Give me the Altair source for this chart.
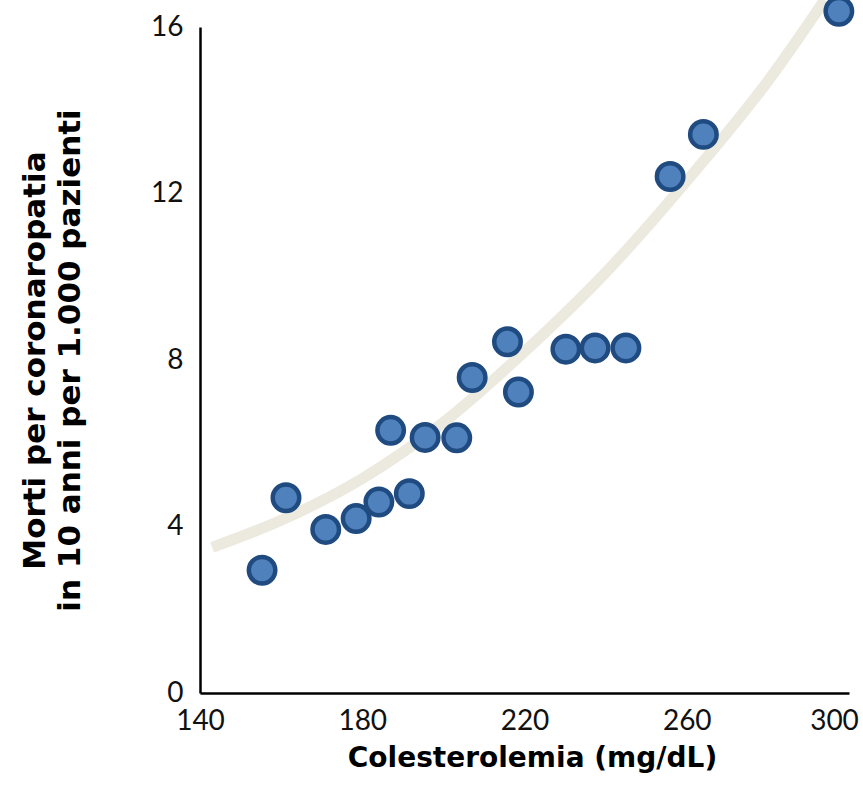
import altair as alt
import pandas as pd

# Observed data points (cholesterol mg/dL, CHD deaths per 1000 in 10 years)
chol = [155.3, 161.2, 171.0, 178.5, 184.1, 187.0, 191.6, 195.5, 203.3,
        207.1, 215.8, 218.5, 230.2, 237.4, 245.0, 255.9, 264.1, 297.5]
deaths = [2.95, 4.69, 3.93, 4.19, 4.59, 6.31, 4.79, 6.14, 6.13,
          7.58, 8.44, 7.23, 8.26, 8.29, 8.29, 12.41, 13.42, 16.38]

# Trend curve
trend_x = [143, 160, 180, 200, 220, 240, 260, 280, 294]
trend_y = [3.5, 4.15, 5.15, 6.5, 8.2, 10.1, 12.3, 14.7, 16.65]

x_ticks = [140, 180, 220, 260, 300]
y_ticks = [0, 4, 8, 12, 16]

pts = pd.DataFrame({"x": chol, "y": deaths})
trend = pd.DataFrame({"x": trend_x, "y": trend_y})

LABEL_FONT = "Lato"
TITLE_FONT = "DejaVu Sans"

x_enc = alt.X(
    "x:Q",
    scale=alt.Scale(domain=[140, 300], nice=False, zero=False),
    axis=alt.Axis(
        values=x_ticks,
        title="Colesterolemia (mg/dL)",
        grid=False,
        ticks=False,
        domainColor="#000000",
        domainWidth=2.5,
        labelFont=LABEL_FONT,
        labelFontSize=28,
        labelFontWeight="normal",
        labelColor="#111111",
        labelPadding=14,
        labelFlush=False,
        labelOffset={"condition": {"test": "datum.value === 300", "value": -15}, "value": 0},
        titleFont=TITLE_FONT,
        titleFontSize=28,
        titleFontWeight="bold",
        titleColor="#000000",
        titlePadding=9,
        titleX=332,
    ),
)

y_enc = alt.Y(
    "y:Q",
    scale=alt.Scale(domain=[0, 16], nice=False),
    axis=alt.Axis(
        values=y_ticks,
        title=["Morti per coronaropatia", "in 10 anni per 1.000 pazienti"],
        grid=False,
        ticks=False,
        domainColor="#000000",
        domainWidth=2.5,
        labelFont=LABEL_FONT,
        labelFontSize=28,
        labelFontWeight="normal",
        labelColor="#111111",
        labelPadding=17,
        labelFlush=False,
        titleFont=TITLE_FONT,
        titleFontSize=31,
        titleFontWeight="bold",
        titleColor="#000000",
        titleLineHeight=35,
        titlePadding=64,
    ),
)

line = alt.Chart(trend).mark_line(
    color="#ece9df", strokeWidth=11, interpolate="monotone", clip=False
).encode(x=x_enc, y=y_enc)

points = alt.Chart(pts).mark_point(
    shape="circle", filled=True, size=700, fill="#4f81bd", stroke="#1f4b80",
    strokeWidth=4.5, opacity=1, fillOpacity=1, clip=False
).encode(x="x:Q", y="y:Q")

chart = alt.layer(line, points).properties(
    width=649, height=666,
    autosize=alt.AutoSizeParams(type="none"),
    padding={"left": 200, "top": 27, "right": 14, "bottom": 107},
).configure(background="white").configure_view(stroke=None)

chart.save("out.html", embed_options={"renderer": "svg", "actions": False})
